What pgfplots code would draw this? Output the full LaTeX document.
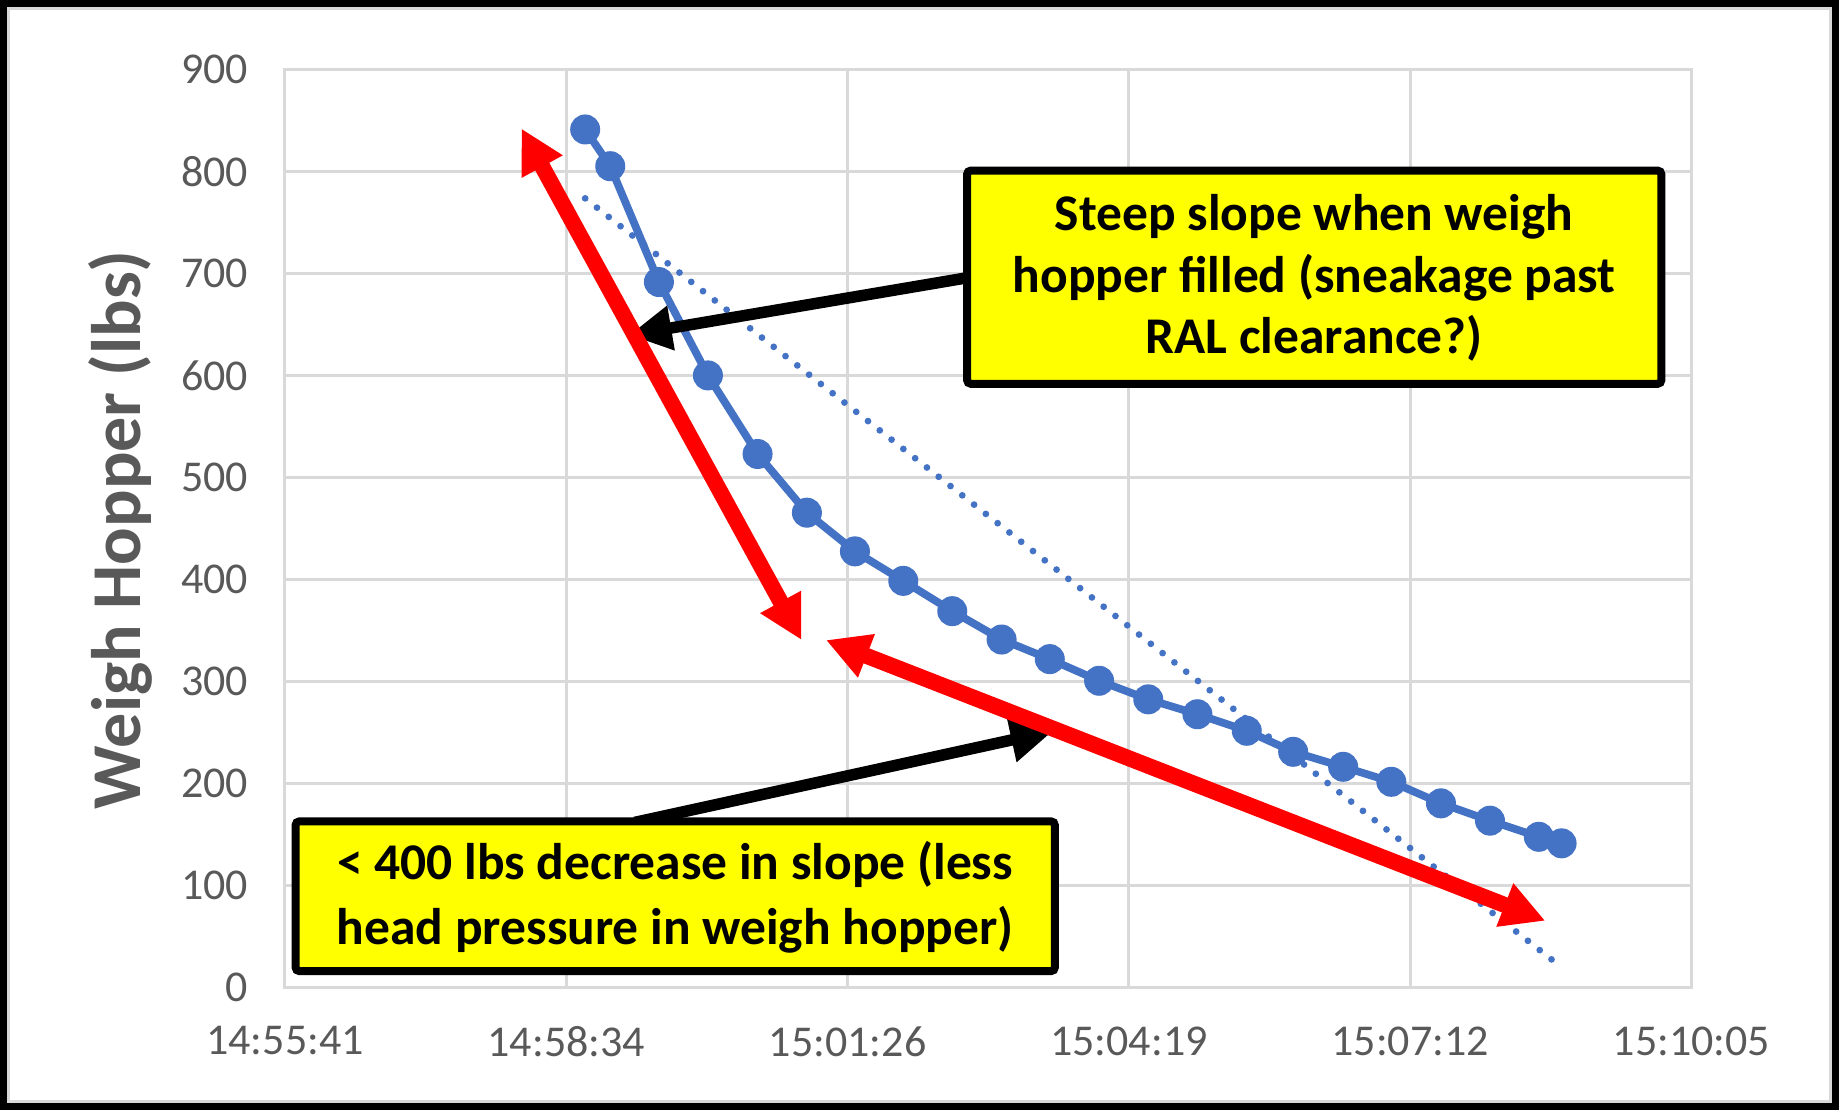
\documentclass[border=0pt]{standalone}
\usepackage{fontspec}
\setmainfont{Carlito}
\usepackage{pgfplots}
\pgfplotsset{compat=1.18}
\usetikzlibrary{arrows.meta}
\definecolor{ser}{HTML}{4472C4}
\definecolor{tickc}{HTML}{595959}
\definecolor{gridc}{HTML}{D9D9D9}
\definecolor{annred}{HTML}{FF0000}
\definecolor{boxy}{HTML}{FFFF00}

\begin{document}
\begin{tikzpicture}
\useasboundingbox (-114pt,-48.9pt) rectangle (621.6pt,395.1pt);
\fill[white] (-114pt,-48.9pt) rectangle (621.6pt,395.1pt);
\begin{axis}[
  at={(0,0)}, anchor=south west,
  scale only axis, width=562.6pt, height=367.4pt,
  xmin=0, xmax=864, ymin=0, ymax=900,
  xtick={0,172.8,345.6,518.4,691.2,864},
  xticklabels={14:55:41,14:58:34,15:01:26,15:04:19,15:07:12,15:10:05},
  ytick={0,100,...,900},
  grid=major,
  major grid style={draw=gridc, line width=1.2pt},
  axis line style={draw=gridc, line width=1.2pt},
  tick style={draw=none},
  ticklabel style={font=\fontsize{17.6}{20}\selectfont, text=tickc},
  xticklabel style={yshift=-12pt},
  yticklabel style={xshift=-11.3pt},
  /pgf/number format/assume math mode=true,
  ylabel={Weigh Hopper (lbs)},
  every axis y label/.style={at={(axis description cs:-0.1027,0.4986)}, rotate=90, anchor=base, font=\fontsize{28}{32}\selectfont\bfseries, text=tickc},
  clip=false,
]
% linear trendline (dotted)
\addplot[ser, line width=2.7pt, line cap=round, dash pattern=on 0pt off 6pt, no marks] coordinates {(184.4,773.5) (784.2,20)};
% data
\addplot[ser, line width=3.1pt, mark=*, mark size=5.6pt, mark options={fill=ser, draw=ser, line width=0.8pt}] coordinates {
(184.4,841) (199.8,805) (229.7,691.5) (259.8,600) (290.3,523) (320.6,465.5)
(350.1,427.6) (379.8,398.7) (409.9,369) (440.2,341.2) (469.8,322) (500.1,300.8)
(530.3,282.6) (560.5,268) (590.8,251.8) (619.3,231.2) (650,216.5) (679.6,201.8)
(710.1,180.7) (740.2,163.7) (770.2,147.9) (784.2,141.5)
};
% black arrows
\draw[black, line width=4.6pt, -{Triangle[length=17pt, width=17pt]}] (axis cs:426.5,697.7) -- (axis cs:211.4,639.5);
\draw[black, line width=4.6pt, -{Triangle[length=17pt, width=17pt]}] (axis cs:214.8,162) -- (axis cs:471.9,251.7);
% red arrows
\draw[annred, line width=6.4pt, {Triangle[length=17.4pt, width=17.4pt]}-{Triangle[length=17.4pt, width=17.4pt]}] (axis cs:317.3,340.7) -- (axis cs:145.2,842);
\draw[annred, line width=6.4pt, {Triangle[length=17.4pt, width=17.4pt]}-{Triangle[length=17.4pt, width=17.4pt]}] (axis cs:332.3,340.7) -- (axis cs:774.2,65.6);
% boxes
\draw[fill=boxy, line width=3.2pt, rounded corners=1.5pt] (axis cs:419,800.7) rectangle (axis cs:845.5,591.8);
\node[align=center, font=\fontsize{20.6}{24.7}\selectfont\bfseries] at (axis cs:632.2,695.5) {Steep slope when weigh\\hopper filled (sneakage past\\RAL clearance?)};
\draw[fill=boxy, line width=3.2pt, rounded corners=1.5pt] (axis cs:6.5,163) rectangle (axis cs:472.9,16.3);
\node[align=center, font=\fontsize{20.6}{25.8}\selectfont\bfseries] at (axis cs:239.7,88.8) {< 400 lbs decrease in slope (less\\head pressure in weigh hopper)};
\end{axis}
\draw[gridc, line width=0.9pt] (-110.6pt,-45.5pt) rectangle (618.2pt,391.7pt);
\draw[black, line width=2.8pt] (-112.6pt,-47.5pt) rectangle (620.2pt,393.7pt);
\end{tikzpicture}
\end{document}
